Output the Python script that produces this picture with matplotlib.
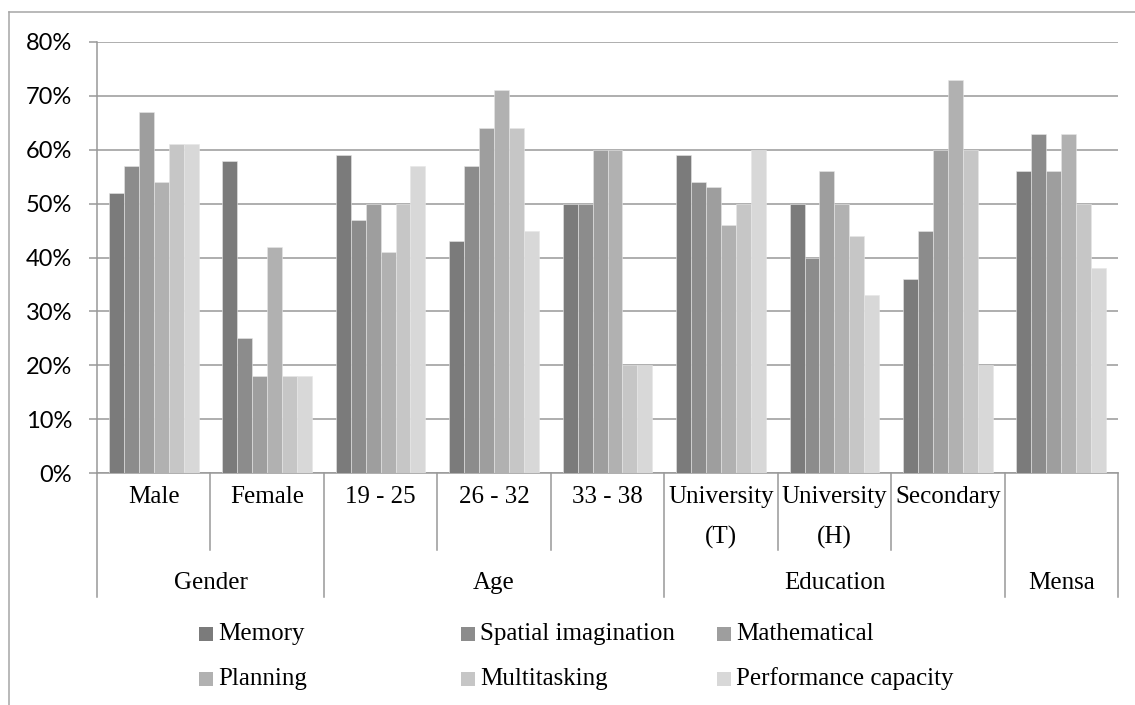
import matplotlib
matplotlib.use("Agg")
import matplotlib.pyplot as plt
import numpy as np
from matplotlib.transforms import blended_transform_factory
from matplotlib.patches import Rectangle
from matplotlib.lines import Line2D
from matplotlib.ticker import FuncFormatter

categories = ["Male", "Female", "19 - 25", "26 - 32", "33 - 38",
              "University\n(T)", "University\n(H)", "Secondary", ""]
groups = ["Gender", "Age", "Education", "Mensa"]
group_sizes = [2, 3, 3, 1]
series = ["Memory", "Spatial imagination", "Mathematical",
          "Planning", "Multitasking", "Performance capacity"]
memory = [52, 58, 59, 43, 50, 59, 50, 36, 56]
spatial = [57, 25, 47, 57, 50, 54, 40, 45, 63]
mathematical = [67, 18, 50, 64, 60, 53, 56, 60, 56]
planning = [54, 42, 41, 71, 60, 46, 50, 73, 63]
multitasking = [61, 18, 50, 64, 20, 50, 44, 60, 50]
performance = [61, 18, 57, 45, 20, 60, 33, 20, 38]
values = [memory, spatial, mathematical, planning, multitasking, performance]
colors = ["#7b7b7b", "#8c8c8c", "#9e9e9e", "#b1b1b1", "#c6c6c6", "#d8d8d8"]

W, H = 1135, 705
fig = plt.figure(figsize=(W / 100, H / 100), dpi=100)
fig.patch.set_facecolor("white")

def fx(px):
    return px / W

def fy(py):
    return 1 - py / H

ax_left, ax_right, ax_top, ax_bot = 97, 1118, 42, 473
ax = fig.add_axes([fx(ax_left), fy(ax_bot), fx(ax_right - ax_left), (ax_bot - ax_top) / H])

n = len(categories)
x = np.arange(n)
ns = len(series)
group_w = 0.79
bw = group_w / ns
for i, (name, vals, c) in enumerate(zip(series, values, colors)):
    ax.bar(x - group_w / 2 + bw * (i + 0.5), np.array(vals) / 100.0, width=bw,
           color=c, edgecolor="#e6e6e6", linewidth=0.4, zorder=3, label=name)

ax.set_xlim(-0.5, n - 0.5)
ax.set_ylim(0, 0.8)
ax.set_yticks(np.arange(0, 0.81, 0.1))
ax.yaxis.set_major_formatter(FuncFormatter(lambda v, p: f"{round(v * 100):d}%"))
ax.grid(axis="y", color="#999999", linewidth=1.1, zorder=0)
ax.set_axisbelow(True)
ax.set_xticks([])
for s in ["top", "right"]:
    ax.spines[s].set_visible(False)
for s in ["left", "bottom"]:
    ax.spines[s].set_color("#999999")
    ax.spines[s].set_linewidth(1.1)
ax.tick_params(axis="y", direction="out", length=6, width=1.1, color="#999999",
               pad=12, labelsize=17, labelcolor="black")
for lab in ax.get_yticklabels():
    lab.set_family(["Lato", "DejaVu Sans"])

trans = blended_transform_factory(ax.transData, fig.transFigure)
serif = ["Liberation Serif", "DejaVu Serif"]
fs = 18

# category labels
for i, cat in enumerate(categories):
    lines = cat.split("\n")
    for j, ln in enumerate(lines):
        ax.text(i, fy(497 + 40 * j), ln, transform=trans, ha="center", va="center",
                fontsize=fs, family=serif, color="black")

# divider lines
group_bounds = [0]
for g in group_sizes:
    group_bounds.append(group_bounds[-1] + g)
for k in range(n + 1):
    if k in group_bounds:
        y_end = 597
    else:
        y_end = 550
    ln = Line2D([k - 0.5, k - 0.5], [fy(ax_bot), fy(y_end)], transform=trans,
                color="#999999", linewidth=1.1, clip_on=False)
    ax.add_line(ln)

# group labels
for gi, g in enumerate(groups):
    center = (group_bounds[gi] + group_bounds[gi + 1]) / 2 - 0.5
    ax.text(center, fy(583), g, transform=trans, ha="center", va="center",
            fontsize=fs, family=serif, color="black")

# legend (manual, Excel style)
col_x = [199, 461, 717]
row_y = [634, 679]
sq = 14
for i, (name, c) in enumerate(zip(series, colors)):
    cx = col_x[i % 3]
    cy = row_y[i // 3]
    fig.add_artist(Rectangle((fx(cx), fy(cy + sq / 2)), sq / W, sq / H,
                             transform=fig.transFigure, facecolor=c, edgecolor="none"))
    fig.text(fx(cx + sq + 5), fy(cy), name, ha="left", va="center",
             fontsize=fs, family=serif, color="black")

# outer chart border (top and left visible)
fig.add_artist(Line2D([fx(9), 1], [fy(12), fy(12)], transform=fig.transFigure,
                      color="#a6a6a6", linewidth=1.1))
fig.add_artist(Line2D([fx(9), fx(9)], [fy(12), 0], transform=fig.transFigure,
                      color="#a6a6a6", linewidth=1.1))

fig.savefig("out.png", dpi=100, facecolor="white")
